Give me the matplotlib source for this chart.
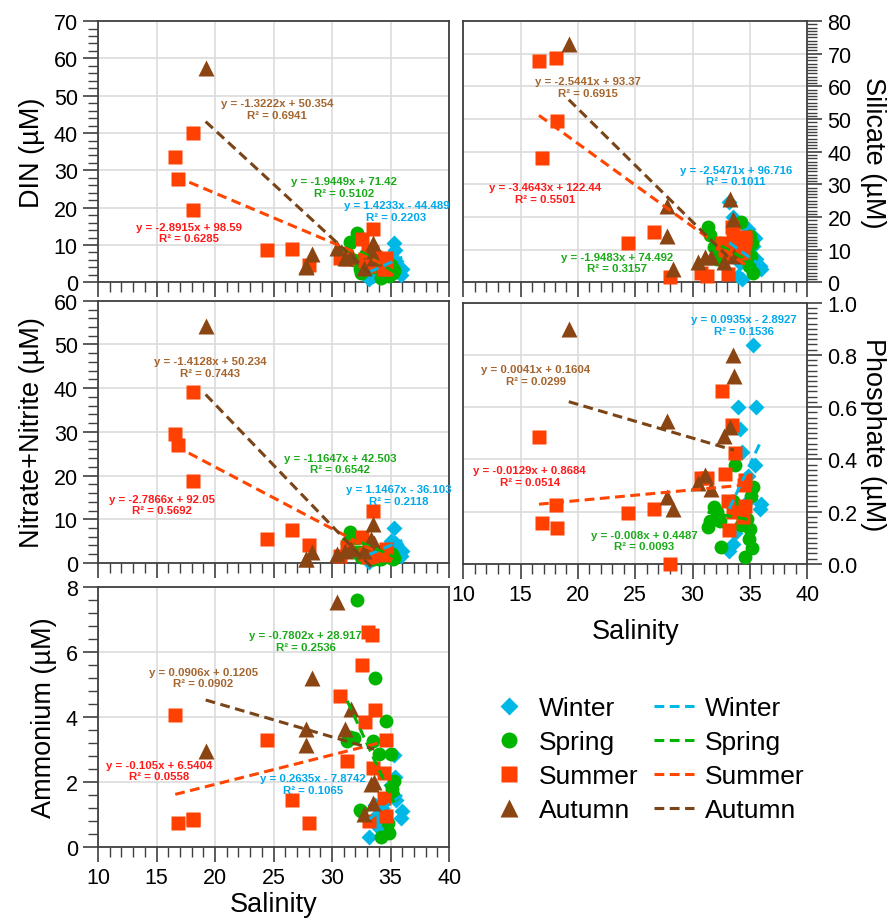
import matplotlib.pyplot as plt
from matplotlib.lines import Line2D
from matplotlib.ticker import MultipleLocator, FormatStrFormatter

plt.rcParams['font.family'] = ['Liberation Sans', 'DejaVu Sans']
plt.rcParams['axes.unicode_minus'] = False

SEASONS = ['Winter', 'Spring', 'Summer', 'Autumn']

# salinity of each sample, by season
winter_sal = [33.2, 33.5, 33.7, 34.0, 34.1, 34.3, 34.8, 35.0, 35.3, 35.4, 35.5, 35.9, 36.0]
spring_sal = [31.3, 31.5, 31.9, 32.1, 32.4, 32.5, 33.5, 33.7, 34.0, 34.2, 34.6, 34.75, 34.9, 35.0, 35.1, 35.2, 35.3]
summer_sal = [16.6, 16.85, 18.1, 18.15, 24.4, 26.6, 28.0, 30.7, 31.25, 32.6, 32.8, 33.05, 33.2, 33.4, 33.5,
              33.7, 34.6, 34.45, 34.4, 34.6]
autumn_sal = [19.2, 27.8, 27.8, 28.3, 30.45, 31.1, 31.6, 32.7, 33.3, 33.5, 33.6]

# DIN (uM)
winter_din = [0.8, 1.7, 2.5, 2.4, 3.5, 3.2, 5.0, 7.0, 10.6, 8.7, 5.7, 2.1, 3.6]
spring_din = [7.8, 10.7, 5.9, 13.3, 3.6, 2.4, 4.1, 6.7, 3.9, 1.2, 5.4, 2.6, 1.8, 4.6, 3.8, 2.4, 3.2]
summer_din = [33.6, 27.6, 39.9, 19.5, 8.8, 9.0, 4.7, 6.4, 6.3, 11.5, 5.8, 8.0, 4.3, 8.0, 14.4, 6.7, 6.5, 4.1, 3.5, 3.6]
autumn_din = [57.5, 4.4, 4.1, 7.5, 9.3, 6.6, 7.1, 3.9, 8.4, 10.6, 6.5]

# silicate (uM)
winter_si = [24.5, 20.0, 9.0, 2.0, 6.0, 1.0, 16.3, 8.0, 11.0, 13.5, 7.0, 5.1, 4.0]
spring_si = [16.8, 14.6, 10.7, 7.2, 12.0, 9.0, 8.5, 11.0, 14.0, 18.4, 10.5, 7.0, 5.1, 14.3, 8.0, 12.0, 2.9]
summer_si = [67.8, 38.0, 68.6, 49.4, 12.2, 15.5, 1.5, 3.0, 2.0, 12.0, 10.0, 2.5, 8.0, 17.0, 15.0, 11.0, 13.0,
             12.0, 9.0, 14.0]
autumn_si = [73.0, 23.5, 14.3, 4.1, 6.1, 7.7, 7.7, 6.1, 25.4, 19.4, 8.0]

# nitrate + nitrite (uM)
winter_nn = [0.2, 0.8, 1.2, 1.8, 2.5, 2.0, 3.5, 5.1, 7.9, 4.6, 4.3, 1.5, 2.8]
spring_nn = [4.5, 7.0, 2.5, 5.7, 2.4, 1.3, 0.8, 1.5, 1.0, 0.9, 1.5, 1.8, 1.3, 1.7, 2.0, 0.8, 1.2]
summer_nn = [29.5, 26.9, 39.1, 18.7, 5.5, 7.6, 4.0, 1.7, 3.6, 5.9, 2.0, 1.4, 3.5, 1.5, 12.0, 2.5, 3.2, 1.8, 2.0, 2.6]
autumn_nn = [54.3, 0.9, 1.0, 2.4, 2.0, 2.8, 3.2, 2.8, 5.5, 8.9, 4.5]

# phosphate (uM)
winter_p = [0.05, 0.077, 0.12, 0.60, 0.517, 0.428, 0.338, 0.25, 0.836, 0.377, 0.60, 0.21, 0.23]
spring_p = [0.14, 0.166, 0.217, 0.20, 0.166, 0.064, 0.24, 0.377, 0.20, 0.15, 0.026, 0.172, 0.096, 0.134, 0.26,
            0.06, 0.294]
summer_p = [0.485, 0.157, 0.226, 0.137, 0.194, 0.211, 0.0, 0.328, 0.33, 0.66, 0.345, 0.24, 0.13, 0.53, 0.20,
            0.425, 0.32, 0.30, 0.18, 0.22]
autumn_p = [0.90, 0.545, 0.255, 0.21, 0.31, 0.34, 0.287, 0.49, 0.525, 0.80, 0.72]

# ammonium (uM)
winter_nh4 = [0.31, 0.87, 1.3, 0.6, 1.0, 1.2, 1.5, 1.9, 2.82, 2.15, 1.44, 0.89, 1.1]
spring_nh4 = [3.27, 3.4, 3.37, 7.6, 1.15, 1.1, 3.27, 5.19, 2.86, 0.3, 3.89, 0.76, 0.45, 2.86, 1.8, 1.6, 2.04]
summer_nh4 = [4.05, 0.74, 0.85, 0.87, 3.28, 1.44, 0.74, 4.66, 2.66, 5.6, 3.84, 6.6, 0.81, 6.52, 2.45, 4.22, 3.3,
              2.28, 1.5, 0.96]
autumn_nh4 = [2.97, 3.62, 3.13, 5.2, 7.53, 3.63, 4.25, 1.02, 1.94, 1.37, 2.0]

# linear trend lines: slope, intercept, R^2
din_fits = {'Winter': (1.4233, -44.489, 0.2203), 'Spring': (-1.9449, 71.42, 0.5102),
            'Summer': (-1.3222, 50.354, 0.6941), 'Autumn': (-2.8915, 98.59, 0.6285)}
si_fits = {'Winter': (-2.5471, 96.716, 0.1011), 'Spring': (-1.9483, 74.492, 0.3157),
           'Summer': (-2.5441, 93.37, 0.6915), 'Autumn': (-3.4643, 122.44, 0.5501)}
nn_fits = {'Winter': (1.1467, -36.103, 0.2118), 'Spring': (-1.1647, 42.503, 0.6542),
           'Summer': (-1.4128, 50.234, 0.7443), 'Autumn': (-2.7866, 92.05, 0.5692)}
p_fits = {'Winter': (0.0935, -2.8927, 0.1536), 'Spring': (-0.008, 0.4487, 0.0093),
          'Summer': (0.0041, 0.1604, 0.0299), 'Autumn': (-0.0129, 0.8684, 0.0514)}
nh4_fits = {'Winter': (0.2635, -7.8742, 0.1065), 'Spring': (-0.7802, 28.917, 0.2536),
            'Summer': (0.0906, 0.1205, 0.0902), 'Autumn': (-0.105, 6.5404, 0.0558)}

# where the equation labels sit (data coords)
din_lab = {'Winter': (35.5, 19.1), 'Spring': (31.0, 25.5), 'Summer': (25.3, 46.4), 'Autumn': (17.8, 13.4)}
si_lab = {'Winter': (33.8, 32.7), 'Spring': (23.4, 6.1), 'Summer': (20.9, 59.9), 'Autumn': (17.1, 27.4)}
nn_lab = {'Winter': (35.7, 15.6), 'Spring': (30.7, 22.8), 'Summer': (19.6, 44.9), 'Autumn': (15.5, 13.4)}
p_lab = {'Winter': (34.5, 0.915), 'Spring': (25.8, 0.09), 'Summer': (16.3, 0.723), 'Autumn': (15.8, 0.337)}
nh4_lab = {'Winter': (28.4, 1.95), 'Spring': (27.75, 6.34), 'Summer': (19.0, 5.22), 'Autumn': (15.2, 2.36)}

SAL = dict(zip(SEASONS, [winter_sal, spring_sal, summer_sal, autumn_sal]))
MARKERS = {'Winter': 'D', 'Spring': 'o', 'Summer': 's', 'Autumn': '^'}
MSIZE = {'Winter': 8, 'Spring': 10, 'Summer': 10, 'Autumn': 11}
MCOL = {'Winter': '#00b8e6', 'Spring': '#00b400', 'Summer': '#ff4000', 'Autumn': '#8b4513'}
LCOL = {'Winter': '#00b8e6', 'Spring': '#00b400', 'Summer': '#ff4500', 'Autumn': '#7a4416'}
TCOL = {'Winter': '#00a8ec', 'Spring': '#1aaa1a', 'Summer': '#a5652e', 'Autumn': '#ff1a1a'}
DASH = (0, (3.2, 1.8))


def eq_text(k, b, r2):
    sign = '+' if b >= 0 else '-'
    return 'y = %gx %s %g\nR² = %g' % (k, sign, abs(b), r2)


def draw_panel(ax, values, fits, labpos, ymax, major, minor, ylabel, right=False, xlabelpad=None, fmt='%d'):
    for s in SEASONS:
        ax.plot(SAL[s], values[s], ls='none', marker=MARKERS[s], ms=MSIZE[s], color=MCOL[s],
                mec='none', zorder=3, clip_on=False)
    for s in SEASONS:
        k, b, r2 = fits[s]
        x0, x1 = min(SAL[s]), max(SAL[s])
        ax.plot([x0, x1], [k * x0 + b, k * x1 + b], color=LCOL[s], lw=2.2, ls=DASH, zorder=4, clip_on=False)
        tx, ty = labpos[s]
        ax.text(tx, ty, eq_text(k, b, r2), color=TCOL[s], fontsize=8.2, fontweight='bold',
                ha='center', va='center', multialignment='center', zorder=5)

    ax.set_xlim(10, 40)
    ax.set_ylim(0, ymax)
    ax.xaxis.set_major_locator(MultipleLocator(5))
    ax.xaxis.set_minor_locator(MultipleLocator(1))
    ax.yaxis.set_major_locator(MultipleLocator(major))
    ax.yaxis.set_minor_locator(MultipleLocator(minor))
    ax.yaxis.set_major_formatter(FormatStrFormatter(fmt))
    ax.grid(True, which='major', color='#dcdcdc', lw=1.2)
    ax.set_axisbelow(True)
    for sp in ax.spines.values():
        sp.set_color('#404040')
        sp.set_linewidth(1.3)
    ax.tick_params(which='major', direction='out', length=11, width=1.2, labelsize=15.5, color='#404040')
    ax.tick_params(which='minor', direction='out', length=7, width=1.0, color='#404040')
    if right:
        ax.yaxis.tick_right()
        ax.yaxis.set_label_position('right')
        ax.set_ylabel(ylabel, fontsize=19.5, rotation=270, va='center', ha='center')
        ax.yaxis.set_label_coords(1.192, 0.5)
    else:
        ax.set_ylabel(ylabel, fontsize=19.5, labelpad=6)
    if xlabelpad is not None:
        ax.set_xlabel('Salinity', fontsize=19.5, labelpad=xlabelpad)
    else:
        ax.tick_params(axis='x', labelbottom=False)


fig = plt.figure(figsize=(8.91, 9.2), dpi=100)
ax_din = fig.add_axes([0.110, 0.692, 0.394, 0.284])
ax_si = fig.add_axes([0.520, 0.692, 0.386, 0.284])
ax_nn = fig.add_axes([0.110, 0.387, 0.394, 0.285])
ax_p = fig.add_axes([0.520, 0.386, 0.386, 0.284])
ax_nh4 = fig.add_axes([0.110, 0.078, 0.394, 0.283])

draw_panel(ax_din, dict(zip(SEASONS, [winter_din, spring_din, summer_din, autumn_din])),
           din_fits, din_lab, 70, 10, 2, 'DIN (µM)')
draw_panel(ax_si, dict(zip(SEASONS, [winter_si, spring_si, summer_si, autumn_si])),
           si_fits, si_lab, 80, 10, 1, 'Silicate (µM)', right=True)
draw_panel(ax_nn, dict(zip(SEASONS, [winter_nn, spring_nn, summer_nn, autumn_nn])),
           nn_fits, nn_lab, 60, 10, 2, 'Nitrate+Nitrite (µM)')
draw_panel(ax_p, dict(zip(SEASONS, [winter_p, spring_p, summer_p, autumn_p])),
           p_fits, p_lab, 1.0, 0.2, 0.02, 'Phosphate (µM)', right=True, xlabelpad=9, fmt='%.1f')
draw_panel(ax_nh4, dict(zip(SEASONS, [winter_nh4, spring_nh4, summer_nh4, autumn_nh4])),
           nh4_fits, nh4_lab, 8, 2, 0.4, 'Ammonium (µM)', xlabelpad=2)

# legend: markers in the first column, trend lines in the second
handles = [Line2D([], [], ls='none', marker=MARKERS[s], ms=MSIZE[s] * 1.15, color=MCOL[s], mec='none')
           for s in SEASONS]
handles += [Line2D([], [], ls=DASH, lw=2.2, color=LCOL[s]) for s in SEASONS]
fig.legend(handles=handles, labels=SEASONS + SEASONS, ncol=2, frameon=False, fontsize=19,
           loc='upper left', bbox_to_anchor=(0.522, 0.268), handlelength=1.5, handletextpad=0.4,
           columnspacing=0.6, labelspacing=0.38)

fig.savefig('out.png', dpi=100)
